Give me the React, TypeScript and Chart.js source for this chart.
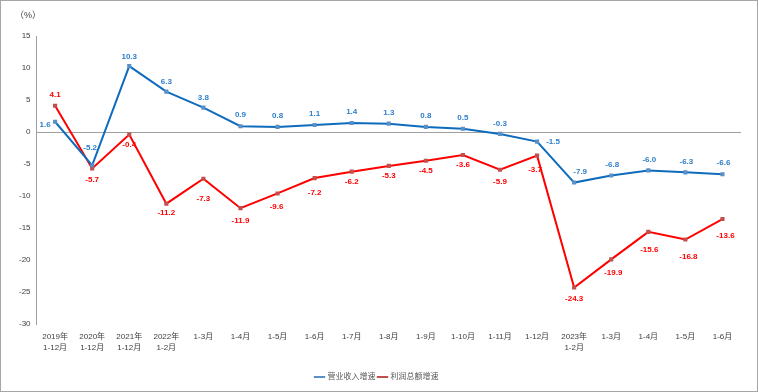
import React, { useEffect, useRef } from "react";
import { Chart, registerables } from "chart.js";

Chart.register(...registerables);

const categories: (string | string[])[] = [
  ["2019年", "1-12月"],
  ["2020年", "1-12月"],
  ["2021年", "1-12月"],
  ["2022年", "1-2月"],
  "1-3月",
  "1-4月",
  "1-5月",
  "1-6月",
  "1-7月",
  "1-8月",
  "1-9月",
  "1-10月",
  "1-11月",
  "1-12月",
  ["2023年", "1-2月"],
  "1-3月",
  "1-4月",
  "1-5月",
  "1-6月",
];

const revenueGrowth = [1.6, -5.2, 10.3, 6.3, 3.8, 0.9, 0.8, 1.1, 1.4, 1.3, 0.8, 0.5, -0.3, -1.5, -7.9, -6.8, -6.0, -6.3, -6.6];
const profitGrowth = [4.1, -5.7, -0.4, -11.2, -7.3, -11.9, -9.6, -7.2, -6.2, -5.3, -4.5, -3.6, -5.9, -3.7, -24.3, -19.9, -15.6, -16.8, -13.6];

const seriesNames = ["营业收入增速", "利润总额增速"];
const yTicks = { min: -30, max: 15, step: 5 };
const unitLabel = "（%）";

// label placement (pixel offsets from each point): [dx, dy]
const revenueLabelOffsets: [number, number][] = [
  [-10, 3], [-2, -17], [0, -9], [0, -10], [0, -10], [0, -11], [0, -11], [0, -11], [0, -11], [0, -11],
  [0, -11], [0, -11], [0, -10], [16, 0], [6, -11], [1, -11], [1, -11], [1, -11], [1, -11],
];
const profitLabelOffsets: [number, number][] = [
  [0, -11], [0, 11], [0, 10], [0, 9], [0, 20], [0, 13], [-1, 13], [0, 15], [0, 10], [0, 10],
  [0, 10], [0, 10], [0, 12], [-2, 14], [0, 11], [2, 13], [1, 18], [3, 17], [3, 17],
];

const FONT = "'Liberation Sans', 'Noto Sans CJK SC', sans-serif";

const labelPlugin = {
  id: "valueLabels",
  afterDatasetsDraw(chart: any) {
    const ctx = chart.ctx;
    ctx.save();
    ctx.font = `bold 8px ${FONT}`;
    ctx.textAlign = "center";
    ctx.textBaseline = "middle";
    chart.data.datasets.forEach((ds: any, di: number) => {
      const meta = chart.getDatasetMeta(di);
      const offs = di === 0 ? revenueLabelOffsets : profitLabelOffsets;
      ctx.fillStyle = di === 0 ? "#2E7FCC" : "#FF0000";
      meta.data.forEach((pt: any, i: number) => {
        const v = ds.data[i];
        const [dx, dy] = offs[i];
        ctx.fillText(v.toFixed(1), pt.x + dx, pt.y + dy);
      });
    });
    ctx.restore();
  },
};

const unitPlugin = {
  id: "unitLabel",
  afterDraw(chart: any) {
    const ctx = chart.ctx;
    ctx.save();
    ctx.font = `9px ${FONT}`;
    ctx.fillStyle = "#404040";
    ctx.textAlign = "left";
    ctx.textBaseline = "middle";
    ctx.fillText(unitLabel, 14, 15);
    ctx.restore();
  },
};

export default function App() {
  const ref = useRef<HTMLCanvasElement>(null);

  useEffect(() => {
    document.body.style.margin = "0";
    if (!ref.current) return;
    const chart = new Chart(ref.current, {
      type: "line",
      data: {
        labels: categories,
        datasets: [
          {
            label: seriesNames[0],
            data: revenueGrowth,
            borderColor: "#0F6CBD",
            backgroundColor: "#0F6CBD",
            borderWidth: 2,
            pointRadius: 1.5,
            pointStyle: "rect",
            pointBackgroundColor: "#5A8FC8",
            pointBorderColor: "#5A8FC8",
            tension: 0,
          },
          {
            label: seriesNames[1],
            data: profitGrowth,
            borderColor: "#FF0000",
            backgroundColor: "#FF0000",
            borderWidth: 2,
            pointRadius: 1.5,
            pointStyle: "rect",
            pointBackgroundColor: "#C0504D",
            pointBorderColor: "#C0504D",
            tension: 0,
          },
        ],
      },
      options: {
        animation: false,
        responsive: false,
        maintainAspectRatio: false,
        layout: { padding: { top: 35, right: 16, left: 12, bottom: 0 } },
        plugins: {
          legend: {
            position: "bottom",
            title: {
              display: true,
              text: " ",
              padding: 4,
              font: { size: 8 },
            },
            labels: {
              usePointStyle: true,
              pointStyle: "line",
              boxWidth: 22,
              padding: 3,
              color: "#595959",
              font: { size: 8, family: "'DejaVu Serif', 'Noto Sans CJK SC', serif" },
            },
          },
          tooltip: { enabled: false },
        },
        scales: {
          x: {
            offset: true,
            grid: { display: false },
            border: { display: false },
            ticks: {
              autoSkip: false,
              maxRotation: 0,
              color: "#404040",
              padding: -1,
              font: { size: 8, family: FONT, lineHeight: 1.4 },
            },
          },
          y: {
            min: yTicks.min,
            max: yTicks.max,
            ticks: {
              stepSize: yTicks.step,
              color: "#404040",
              padding: 6,
              font: { size: 8, family: FONT },
            },
            grid: {
              drawTicks: false,
              color: (c: any) => (c.tick && c.tick.value === 0 ? "#A0A0A0" : "rgba(0,0,0,0)"),
              lineWidth: 1,
            },
            border: { display: true, color: "#A0A0A0" },
          },
        },
      },
      plugins: [labelPlugin, unitPlugin],
    });
    return () => chart.destroy();
  }, []);

  return (
    <div
      style={{
        width: 758,
        height: 392,
        boxSizing: "border-box",
        border: "1px solid #A6A6A6",
        background: "#fff",
        position: "relative",
      }}
    >
      <canvas ref={ref} width={756} height={390} style={{ display: "block" }} />
    </div>
  );
}
